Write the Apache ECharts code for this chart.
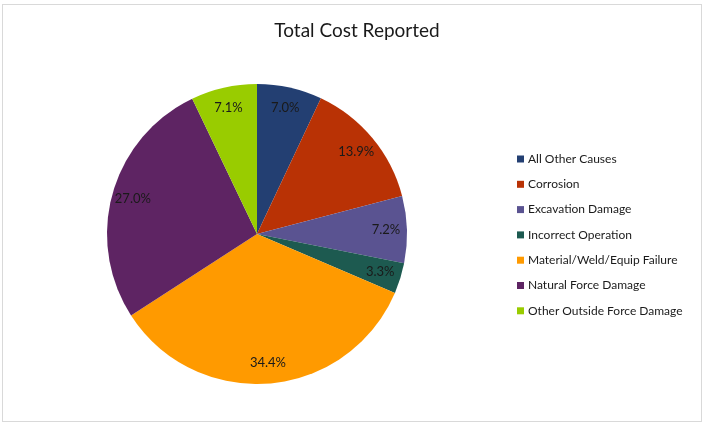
<!DOCTYPE html>
<html>
<head>
<meta charset="utf-8">
<script src="https://cdn.jsdelivr.net/npm/echarts@6/dist/echarts.min.js"></script>
<style>
html,body{margin:0;padding:0;background:#fff;}
#frame{position:absolute;left:2px;top:4px;width:700px;height:418px;border:1px solid #d9d9d9;box-sizing:border-box;}
#chart{position:absolute;left:0;top:0;width:708px;height:436px;}
</style>
</head>
<body>
<div id="frame"></div>
<div id="chart"></div>
<script>
const titleText = 'Total Cost Reported';
const categories = ['All Other Causes','Corrosion','Excavation Damage','Incorrect Operation','Material/Weld/Equip Failure','Natural Force Damage','Other Outside Force Damage'];
const values = [7.0, 13.9, 7.2, 3.3, 34.4, 27.0, 7.1];
const colors = ['#233F72','#B93205','#5A5391','#1D5A50','#FF9A00','#5E2463','#99CC00'];

const data = categories.map((c,i)=>({name:c, value:values[i], itemStyle:{color:colors[i]}}));
const font = 'Lato, "Open Sans", sans-serif';
const chart = echarts.init(document.getElementById('chart'), null, {renderer:'canvas'});
chart.setOption({
  animation:false,
  backgroundColor:'transparent',
  title:{text:titleText,left:352,top:16,textAlign:'center',textStyle:{fontFamily:font,fontSize:19,fontWeight:'normal',color:'#1a1a1a'}},
  legend:{
    orient:'vertical', left:512, top:146,
    icon:'rect', itemWidth:7, itemHeight:7, itemGap:9.3,
    textStyle:{fontFamily:font,fontSize:12,color:'#1a1a1a',lineHeight:16,padding:[0,0,0,-1]},
    data:categories
  },
  series:[
    {type:'pie', center:[257,234], radius:[0,150], startAngle:90, clockwise:true,
     data:data, label:{show:false}, labelLine:{show:false}, silent:true},
    {type:'pie', center:[257,234], radius:[102,150], startAngle:90, clockwise:true,
     data:categories.map((c,i)=>({name:c,value:values[i]})),
     itemStyle:{color:'rgba(0,0,0,0)'}, silent:true, legendHoverLink:false,
     label:{show:true, position:'inside', formatter:p=>values[p.dataIndex].toFixed(1)+'%',
            fontFamily:font, fontSize:13, color:'#1a1a1a'},
     labelLine:{show:false}}
  ]
});
</script>
</body>
</html>
